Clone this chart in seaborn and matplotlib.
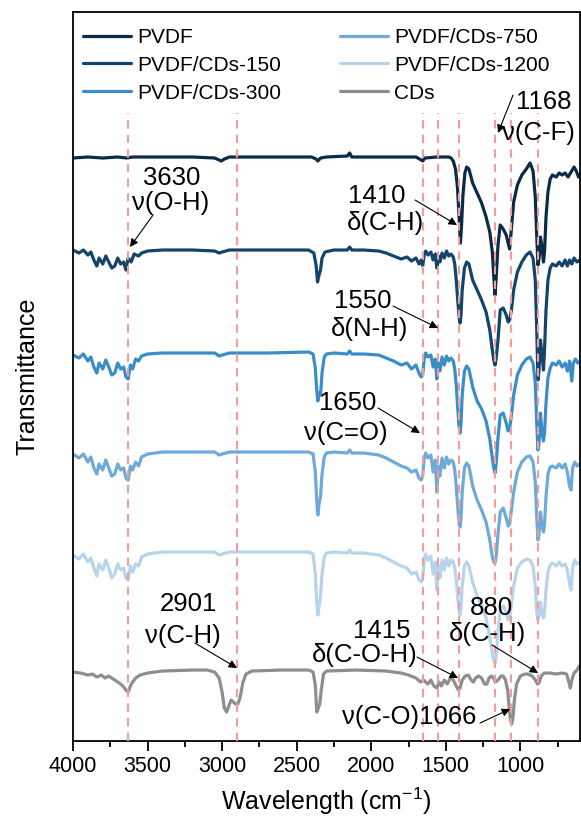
import numpy as np
import pandas as pd
import matplotlib
matplotlib.use("Agg")
import matplotlib.pyplot as plt
from matplotlib.lines import Line2D
from matplotlib.ticker import MultipleLocator
import seaborn as sns

# ---------------- data (transmittance, a.u.; 100 = local baseline) ----------------
names = ["PVDF", "PVDF/CDs-150", "PVDF/CDs-300", "PVDF/CDs-750", "PVDF/CDs-1200", "CDs"]

pvdf_wn = [4000, 3900, 3800, 3700, 3640, 3600, 3400, 3200, 3050, 3020, 3005, 2985, 2950, 2700, 2400, 2370,
           2358, 2340, 2300, 2160, 2145, 2130, 2100, 1900, 1700, 1665, 1655, 1640, 1560, 1480, 1465, 1450,
           1435, 1422, 1410, 1402, 1395, 1385, 1372, 1360, 1345, 1320, 1290, 1260, 1230, 1205, 1188, 1178,
           1170, 1162, 1150, 1135, 1115, 1095, 1082, 1072, 1062, 1045, 1020, 990, 960, 935, 915, 900, 890,
           882, 875, 865, 855, 845, 838, 828, 815, 800, 785, 760, 740, 720, 700, 680, 660, 640, 625, 610, 600]
pvdf_t = [99, 100, 99, 100, 99, 100, 100, 100, 99, 97, 96, 98, 100, 100, 100, 98,
          96, 99, 100, 101, 104, 100, 100, 100, 100, 97, 96, 99, 100, 100, 99, 96,
          88, 70, 38, 14, 30, 62, 84, 90, 88, 74, 64, 54, 40, 25, 5, -20,
          -38, -20, 12, 32, 28, 22, 14, 8, 25, 55, 72, 82, 88, 94, 86, 60, 20,
          -8, -2, 20, 10, -5, 5, 40, 65, 78, 82, 80, 84, 82, 84, 80, 85, 90, 86, 80, 82]

c150_wn = [4000, 3960, 3930, 3900, 3880, 3860, 3840, 3825, 3800, 3780, 3760, 3740, 3720, 3700, 3680, 3660,
           3645, 3630, 3610, 3590, 3560, 3540, 3500, 3400, 3200, 3050, 3020, 3000, 2950, 2700, 2420, 2385,
           2370, 2360, 2350, 2340, 2330, 2310, 2250, 2160, 2145, 2130, 2050, 1950, 1900, 1850, 1800, 1760,
           1730, 1700, 1680, 1665, 1655, 1645, 1635, 1620, 1600, 1585, 1570, 1560, 1550, 1540, 1525, 1510,
           1495, 1480, 1465, 1450, 1440, 1430, 1420, 1410, 1404, 1398, 1390, 1375, 1360, 1345, 1320, 1290,
           1260, 1230, 1205, 1188, 1178, 1170, 1162, 1150, 1135, 1115, 1095, 1082, 1072, 1060, 1045, 1020,
           990, 960, 935, 915, 900, 890, 882, 875, 865, 855, 845, 838, 828, 815, 800, 785, 760, 740, 720,
           700, 685, 670, 655, 640, 620, 600]
c150_t = [100, 97, 100, 95, 98, 90, 84, 92, 86, 94, 88, 82, 84, 92, 86, 88,
          80, 92, 88, 96, 94, 97, 99, 100, 100, 99, 97, 98, 100, 100, 100, 97,
          85, 68, 75, 80, 92, 98, 100, 100, 103, 100, 100, 99, 97, 94, 91, 93,
          89, 92, 86, 90, 84, 95, 99, 95, 98, 90, 96, 82, 94, 88, 97, 92,
          99, 94, 96, 93, 86, 70, 50, 32, 27, 35, 60, 82, 88, 86, 70, 60,
          50, 38, 20, 0, -10, -15, -8, 10, 40, 42, 35, 28, 30, 40, 60, 78,
          88, 95, 98, 92, 70, 20, -30, -20, 10, -5, -20, 0, 40, 70, 82, 86, 84, 88, 84,
          90, 84, 90, 86, 92, 88, 90]

c300_wn = [4000, 3960, 3930, 3900, 3880, 3860, 3840, 3825, 3800, 3780, 3760, 3740, 3720, 3700, 3680, 3660,
           3645, 3630, 3615, 3600, 3580, 3560, 3540, 3500, 3400, 3200, 3050, 3020, 3000, 2950, 2700, 2420,
           2390, 2375, 2365, 2358, 2350, 2340, 2330, 2315, 2300, 2250, 2160, 2145, 2130, 2050, 1950, 1900,
           1850, 1800, 1760, 1730, 1700, 1680, 1665, 1655, 1645, 1635, 1620, 1600, 1585, 1570, 1560, 1550,
           1540, 1525, 1510, 1495, 1480, 1465, 1450, 1440, 1430, 1420, 1410, 1404, 1398, 1390, 1375, 1360,
           1345, 1320, 1290, 1260, 1230, 1205, 1188, 1178, 1170, 1162, 1150, 1135, 1115, 1095, 1082, 1072,
           1060, 1045, 1020, 990, 960, 935, 915, 900, 890, 882, 875, 865, 855, 845, 838, 828, 815, 800, 785,
           760, 740, 720, 700, 685, 670, 655, 645, 630, 615, 600]
c300_t = [98, 95, 99, 92, 96, 86, 80, 90, 84, 93, 86, 78, 80, 90, 84, 86,
          76, 74, 88, 84, 94, 92, 97, 99, 100, 100, 100, 97, 98, 100, 100, 101,
          99, 85, 62, 52, 60, 58, 80, 96, 99, 100, 99, 102, 99, 99, 98, 95,
          92, 88, 90, 84, 88, 80, 76, 78, 94, 100, 96, 98, 86, 94, 74, 90,
          82, 96, 88, 97, 92, 95, 92, 84, 68, 45, 25, 20, 30, 58, 82, 87,
          84, 66, 52, 44, 32, 14, -5, -15, -20, -10, 15, 38, 40, 30, 22, 24,
          38, 58, 78, 88, 94, 96, 90, 70, 30, 3, 10, 40, 20, 12, 20, 50, 75, 85, 90,
          88, 92, 86, 90, 82, 92, 72, 90, 94, 90, 92]

c750_wn = [4000, 3960, 3930, 3900, 3880, 3860, 3840, 3825, 3800, 3780, 3760, 3740, 3720, 3700, 3680, 3660,
           3645, 3630, 3615, 3600, 3580, 3560, 3540, 3500, 3400, 3200, 3050, 3020, 3000, 2950, 2700, 2420,
           2390, 2375, 2365, 2358, 2350, 2340, 2330, 2315, 2300, 2250, 2160, 2145, 2130, 2050, 1950, 1900,
           1850, 1800, 1760, 1730, 1700, 1680, 1665, 1655, 1645, 1635, 1620, 1600, 1585, 1570, 1560, 1550,
           1540, 1525, 1510, 1495, 1480, 1465, 1450, 1440, 1430, 1420, 1410, 1404, 1398, 1390, 1375, 1360,
           1345, 1320, 1290, 1260, 1230, 1205, 1188, 1178, 1170, 1162, 1150, 1135, 1115, 1095, 1082, 1072,
           1060, 1045, 1020, 990, 960, 935, 915, 900, 890, 882, 875, 865, 855, 845, 838, 828, 815, 800, 785,
           760, 740, 720, 700, 685, 670, 660, 650, 635, 620, 600]
c750_t = [98, 94, 98, 90, 95, 84, 78, 88, 82, 92, 84, 76, 78, 88, 82, 84,
          74, 72, 86, 82, 90, 86, 95, 98, 100, 100, 100, 97, 98, 100, 100, 100,
          98, 80, 50, 37, 48, 55, 78, 95, 99, 100, 99, 102, 99, 99, 97, 94,
          90, 86, 84, 80, 82, 74, 72, 76, 94, 99, 94, 97, 80, 92, 60, 86,
          76, 94, 84, 95, 88, 92, 90, 82, 66, 45, 28, 25, 34, 60, 84, 89,
          86, 66, 52, 42, 30, 12, -5, -10, -11, -4, 18, 40, 44, 34, 26, 28,
          42, 60, 80, 90, 95, 96, 90, 70, 35, 12, 18, 40, 26, 20, 28, 55, 78, 85, 86,
          84, 88, 84, 88, 80, 66, 62, 84, 90, 86, 88]

c1200_wn = c750_wn
c1200_t = [97, 93, 98, 90, 94, 84, 76, 88, 82, 92, 84, 74, 78, 88, 82, 84,
           74, 72, 86, 80, 88, 86, 95, 98, 100, 100, 100, 97, 98, 100, 100, 100,
           98, 78, 48, 37, 46, 55, 78, 95, 99, 100, 99, 102, 99, 99, 97, 94,
           90, 86, 84, 78, 80, 72, 70, 74, 92, 98, 92, 96, 78, 90, 62, 86,
           74, 92, 82, 94, 86, 92, 90, 84, 72, 55, 40, 37, 45, 66, 86, 90,
           86, 70, 56, 46, 34, 15, -2, -8, -11, -4, 20, 42, 46, 40, 32, 34,
           48, 66, 84, 90, 93, 92, 86, 66, 40, 32, 36, 50, 38, 34, 40, 62, 80, 87, 89,
           86, 90, 86, 88, 82, 68, 62, 84, 92, 88, 90]

cds_wn = [4000, 3950, 3900, 3870, 3840, 3810, 3785, 3760, 3730, 3700, 3680, 3660, 3645, 3630, 3615, 3600,
          3580, 3550, 3500, 3400, 3200, 3100, 3050, 3020, 3000, 2985, 2970, 2955, 2940, 2925, 2910, 2895,
          2880, 2860, 2840, 2800, 2600, 2420, 2390, 2375, 2365, 2355, 2345, 2335, 2320, 2300, 2100, 1900,
          1800, 1750, 1700, 1670, 1650, 1620, 1600, 1580, 1560, 1545, 1530, 1510, 1490, 1470, 1450, 1430,
          1415, 1405, 1390, 1370, 1350, 1330, 1315, 1300, 1280, 1260, 1240, 1225, 1210, 1195, 1180, 1168,
          1150, 1130, 1115, 1100, 1085, 1075, 1066, 1058, 1050, 1040, 1025, 1000, 970, 950, 920, 900, 885,
          875, 860, 840, 800, 760, 720, 690, 675, 665, 655, 640, 620, 605, 600]
cds_t = [98, 97, 95, 96, 93, 95, 92, 94, 91, 88, 86, 83, 80, 78, 84, 88,
         92, 95, 97, 99, 100, 100, 98, 92, 78, 62, 58, 64, 70, 68, 66, 66,
         72, 88, 96, 99, 100, 100, 98, 85, 58, 62, 66, 80, 96, 99, 100, 99,
         97, 95, 92, 88, 90, 86, 90, 84, 82, 88, 84, 90, 86, 92, 90, 84,
         80, 82, 90, 94, 95, 90, 88, 92, 94, 92, 86, 86, 92, 94, 92, 88,
         90, 94, 94, 90, 80, 62, 50, 46, 52, 70, 86, 94, 96, 96, 94, 90, 86,
         87, 94, 97, 97, 96, 97, 96, 88, 82, 90, 97, 100, 104, 103]

band_positions = [3630, 2901, 1650, 1550, 1410, 1168, 1066, 880]

colors = ["#0c2b47", "#13456a", "#3b8dc7", "#6ea9d8", "#b6d4eb", "#8e8e8e"]
stack_offset = [584, 491, 388, 289, 189, 71]   # vertical stacking of the spectra

series = [(pvdf_wn, pvdf_t), (c150_wn, c150_t), (c300_wn, c300_t),
          (c750_wn, c750_t), (c1200_wn, c1200_t), (cds_wn, cds_t)]

frames = []
for name, (wn, t), off in zip(names, series, stack_offset):
    frames.append(pd.DataFrame({"sample": name, "wn": wn,
                                "y": np.asarray(t, float) - 100 + off}))
df = pd.concat(frames, ignore_index=True)

# ---------------- style ----------------
sns.set_style("ticks")
plt.rcParams["font.family"] = ["Liberation Sans", "DejaVu Sans"]
plt.rcParams["mathtext.default"] = "regular"
plt.rcParams["axes.unicode_minus"] = False
plt.rcParams.update({"text.color": "black", "axes.labelcolor": "black",
                     "xtick.color": "black", "ytick.color": "black"})

fig = plt.figure(figsize=(5.81, 8.22), dpi=100)
ax = fig.add_axes([0.1256, 0.0985, 0.8727, 0.8869])

palette = dict(zip(names, colors))
sns.lineplot(data=df, x="wn", y="y", hue="sample", hue_order=names, palette=palette,
             estimator=None, sort=False, lw=2.3, ax=ax, legend=False)

ax.vlines(band_positions, 0, 628, colors="#f49b9b", linestyles=(0, (4, 3)), lw=1.5, zorder=5)

ax.set_xlim(4000, 600)
ax.set_ylim(0, 729)
ax.set_xticks([4000, 3500, 3000, 2500, 2000, 1500, 1000])
ax.xaxis.set_minor_locator(MultipleLocator(250))
ax.set_yticks([])
ax.tick_params(axis="x", which="major", length=7, width=1.3, labelsize=15.5, pad=4, direction="out")
ax.tick_params(axis="x", which="minor", length=4, width=1.3, direction="out")
for s in ax.spines.values():
    s.set_linewidth(1.3)
    s.set_color("black")

ax.set_xlabel("Wavelength (cm$^{-1}$)", fontsize=18, labelpad=6)
ax.set_ylabel("Transmittance", fontsize=18, labelpad=24)

# legend
handles = [Line2D([], [], color=c, lw=2.3) for c in colors]
ax.legend(handles, names, ncol=2, loc="upper left", bbox_to_anchor=(0.02, 0.978),
          frameon=False, fontsize=15, handlelength=2.3, handletextpad=0.3,
          labelspacing=0.42, columnspacing=2.8, borderaxespad=0, borderpad=0)

# annotations
fs = 18.5
txt = [
    ("3630", 3336, 563), ("ν(O-H)", 3343, 538),
    ("1410", 1961, 545), ("δ(C-H)", 1907, 518),
    ("1550", 2055, 440), ("δ(N-H)", 2008, 412),
    ("1650", 2156, 338), ("ν(C=O)", 2169, 308),
    ("1168", 841, 639), ("ν(C-F)", 881, 608),
    ("2901", 3229, 137), ("ν(C-H)", 3262, 105),
    ("1415", 1928, 110), ("δ(C-O-H)", 2042, 86),
    ("880", 1197, 133), ("δ(C-H)", 1223, 107),
    ("ν(C-O)1066", 1747, 24),
]
for s, x, y in txt:
    ax.text(x, y, s, fontsize=fs, ha="center", va="center", zorder=6)

arrows = [
    ((3463, 526), (3618, 494)),
    ((1706, 541), (1425, 516)),
    ((1854, 435), (1552, 413)),
    ((1954, 333), (1673, 308)),
    ((1049, 646), (1150, 608)),
    ((3182, 98), (2900, 73)),
    ((1693, 84), (1418, 63)),
    ((1190, 96), (881, 68)),
    ((1270, 18), (1069, 32)),
]
for tail, tip in arrows:
    ax.annotate("", xy=tip, xytext=tail,
                arrowprops=dict(arrowstyle="-|>", color="black", lw=0.8,
                                mutation_scale=12, shrinkA=0, shrinkB=0), zorder=6)

fig.savefig("out.png", dpi=100)
